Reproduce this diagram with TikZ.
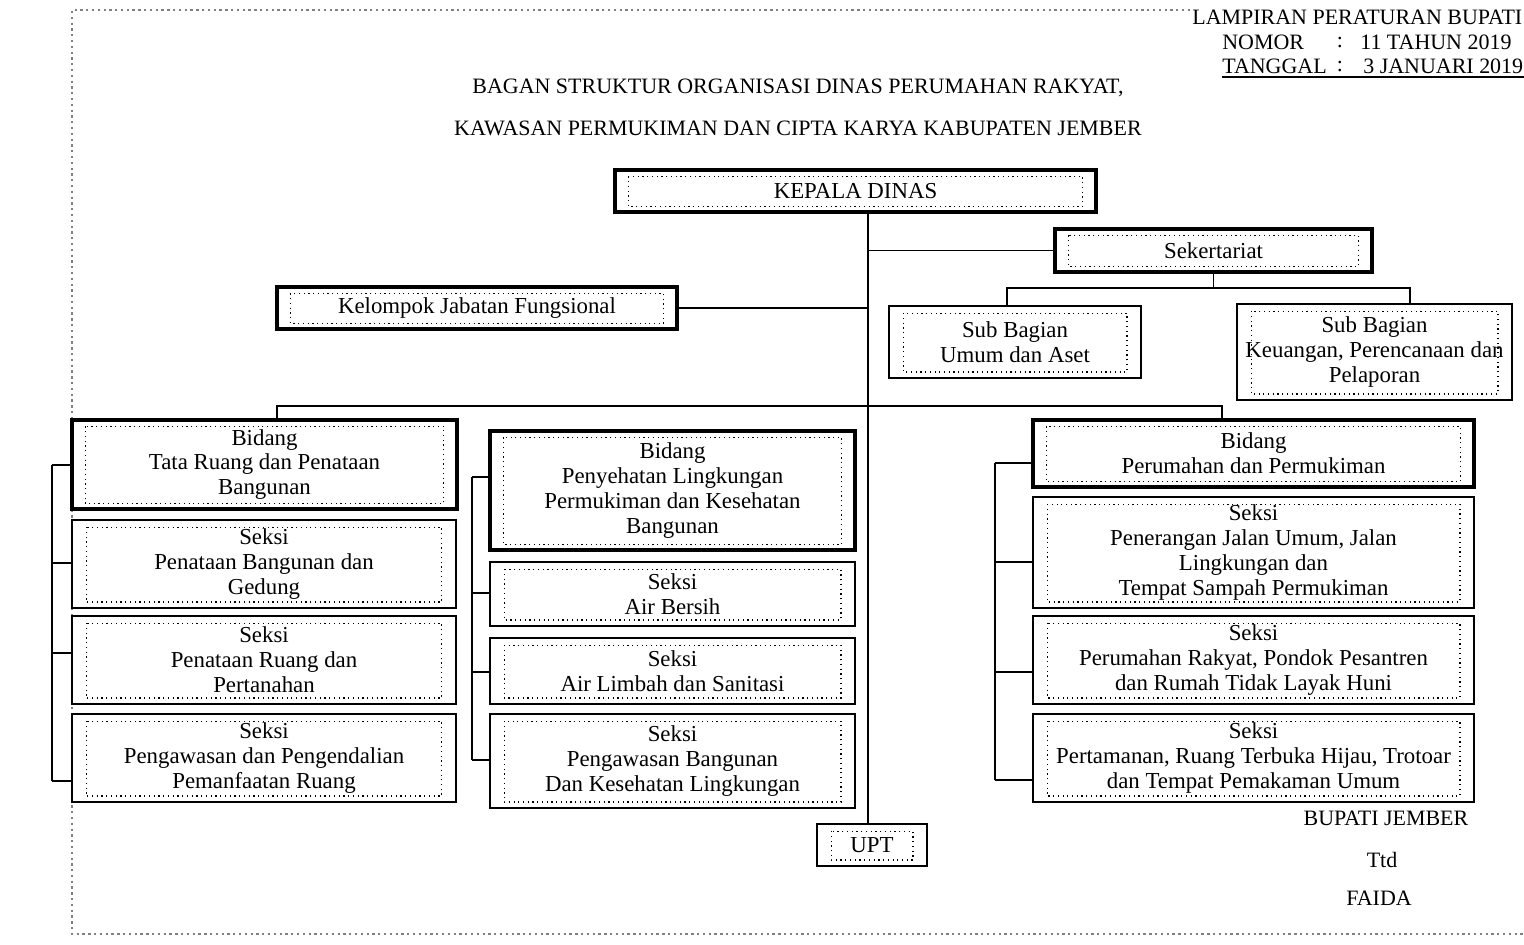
\documentclass[tikz,border=0pt]{standalone}
\usepackage{fontspec}
\setmainfont{Liberation Serif}
\tikzset{
  every node/.style={font=\fontsize{13}{14.2}\selectfont, align=center, inner sep=0pt},
  boxwh/.style 2 args={minimum width=#1*0.02cm, minimum height=#2*0.02cm},
  box/.style={draw, line width=1pt},
  bigbox/.style={draw, line width=1.8pt},
  conn/.style={line width=0.9pt},
  dotframe/.style={dotted, line width=0.7pt},
  pageborder/.style={dotted, gray, line width=1.3pt},
  titlefont/.style={font=\fontsize{12.5}{14}\selectfont}
}

\begin{document}
\begin{tikzpicture}[x=0.02cm, y=-0.02cm]
\useasboundingbox (0,0) rectangle (1524,944);
\draw[pageborder] (1190,10) -- (72,10) -- (72,934) -- (1524,934);

% lampiran
\node[titlefont, anchor=west] (lampiran) at (1192,17) {LAMPIRAN PERATURAN BUPATI};
\node[titlefont, anchor=west] (nomor) at (1222,42) {NOMOR};
\node[titlefont] (nomorsep) at (1340,42) {:};
\node[titlefont, anchor=west] (nomorval) at (1360,42) {11 TAHUN 2019};
\node[titlefont, anchor=west] (tgl) at (1222,66) {TANGGAL};
\node[titlefont] (tglsep) at (1340,66) {:};
\node[titlefont, anchor=west] (tglval) at (1363,66) {3 JANUARI 2019};
\draw[line width=1.4pt] (tgl.west |- 0,77) -- (tglval.east |- 0,77);

\node[titlefont] (title1) at (798,88) {BAGAN STRUKTUR ORGANISASI DINAS PERUMAHAN RAKYAT,};
\node[titlefont] (title2) at (798,128) {KAWASAN PERMUKIMAN DAN CIPTA KARYA KABUPATEN JEMBER};

% pimpinan dan sekretariat
\node[bigbox, boxwh={481}{42}] (kepala) at (855.5,191) {KEPALA DINAS};
\node[bigbox, boxwh={317}{43}] (sekr) at (1213.5,250.5) {Sekertariat};
\node[bigbox, boxwh={400}{42}] (kelompok) at (477,308) {Kelompok Jabatan Fungsional};
\node[box, boxwh={252}{72}] (umum) at (1015,342) {Sub Bagian\\Umum dan Aset};
\node[box, boxwh={275}{96}] (keu) at (1374.5,352) {Sub Bagian\\Keuangan, Perencanaan dan\\Pelaporan};

% bidang tata ruang
\node[bigbox, boxwh={385}{89}] (bidA) at (264.5,464.5) {Bidang\\Tata Ruang dan Penataan\\Bangunan};
\node[box, boxwh={384}{88}] (sA1) at (264,564) {Seksi\\Penataan Bangunan dan\\Gedung};
\node[box, boxwh={384}{88}] (sA2) at (264,660) {Seksi\\Penataan Ruang dan\\Pertanahan};
\node[box, boxwh={384}{88}] (sA3) at (264,758) {Seksi\\Pengawasan dan Pengendalian\\Pemanfaatan Ruang};

% bidang penyehatan lingkungan
\node[bigbox, boxwh={365}{119}] (bidB) at (672.5,490.5) {Bidang\\Penyehatan Lingkungan\\Permukiman dan Kesehatan\\Bangunan};
\node[box, boxwh={365}{64}] (sB1) at (672.5,594) {Seksi\\Air Bersih};
\node[box, boxwh={365}{66}] (sB2) at (672.5,671) {Seksi\\Air Limbah dan Sanitasi};
\node[box, boxwh={365}{94}] (sB3) at (672.5,761) {Seksi\\Pengawasan Bangunan\\Dan Kesehatan Lingkungan};

% bidang perumahan
\node[bigbox, boxwh={441}{67}] (bidC) at (1253.5,453.5) {Bidang\\Perumahan dan Permukiman};
\node[box, boxwh={441}{111}] (sC1) at (1253.5,552.5) {Seksi\\Penerangan Jalan Umum, Jalan\\Lingkungan dan\\Tempat Sampah Permukiman};
\node[box, boxwh={441}{88}] (sC2) at (1253.5,660) {Seksi\\Perumahan Rakyat, Pondok Pesantren\\dan Rumah Tidak Layak Huni};
\node[box, boxwh={441}{88}] (sC3) at (1253.5,758) {Seksi\\Pertamanan, Ruang Terbuka Hijau, Trotoar\\dan Tempat Pemakaman Umum};

\node[box, boxwh={110}{42}] (upt) at (872,845) {UPT};

\foreach \n in {kepala,sekr,kelompok,umum,keu,bidA,sA1,sA2,sA3,bidB,sB1,sB2,sB3,bidC,sC1,sC2,sC3,upt}
  \draw[dotframe] ([shift={(15,8)}]\n.north west) rectangle ([shift={(-15,-7)}]\n.south east);

% garis komando
\coordinate (spine) at (868,0);
\coordinate (busA) at (1007,288);
\coordinate (busB) at (1410,288);
\coordinate (busC) at (277,406);
\coordinate (busD) at (1222,406);
\coordinate (brA) at (52,0);
\coordinate (brB) at (472,0);
\coordinate (brC) at (995,0);

\draw[conn] (kepala.south -| spine) -- (upt.north -| spine);
\draw[conn] (spine |- sekr.west) -- (sekr.west);
\draw[conn] (kelompok.east) -- (kelompok.east -| spine);
\draw[conn] (sekr.south) -- (sekr.south |- busA);
\draw[conn] (busA |- umum.north) -- (busA) -- (busB) -- (busB |- keu.north);
\draw[conn] (busC |- bidA.north) -- (busC) -- (busD) -- (busD |- bidC.north);

\draw[conn] (brA |- 0,465) -- (brA |- 0,781);
\foreach \y/\n in {465/bidA, 563/sA1, 653/sA2, 781/sA3}
  \draw[conn] (\n.west |- 0,\y) -- (brA |- 0,\y);
\draw[conn] (brB |- 0,477) -- (brB |- 0,760);
\foreach \y/\n in {477/bidB, 593/sB1, 672/sB2, 760/sB3}
  \draw[conn] (\n.west |- 0,\y) -- (brB |- 0,\y);
\draw[conn] (brC |- 0,463) -- (brC |- 0,780);
\foreach \y/\n in {463/bidC, 562/sC1, 672/sC2, 780/sC3}
  \draw[conn] (\n.west |- 0,\y) -- (brC |- 0,\y);

% pengesahan
\node[titlefont] (bupati) at (1386,818) {BUPATI JEMBER};
\node[titlefont] (ttd) at (1382,860) {Ttd};
\node[titlefont] (faida) at (1379,898) {FAIDA};
\end{tikzpicture}
\end{document}
